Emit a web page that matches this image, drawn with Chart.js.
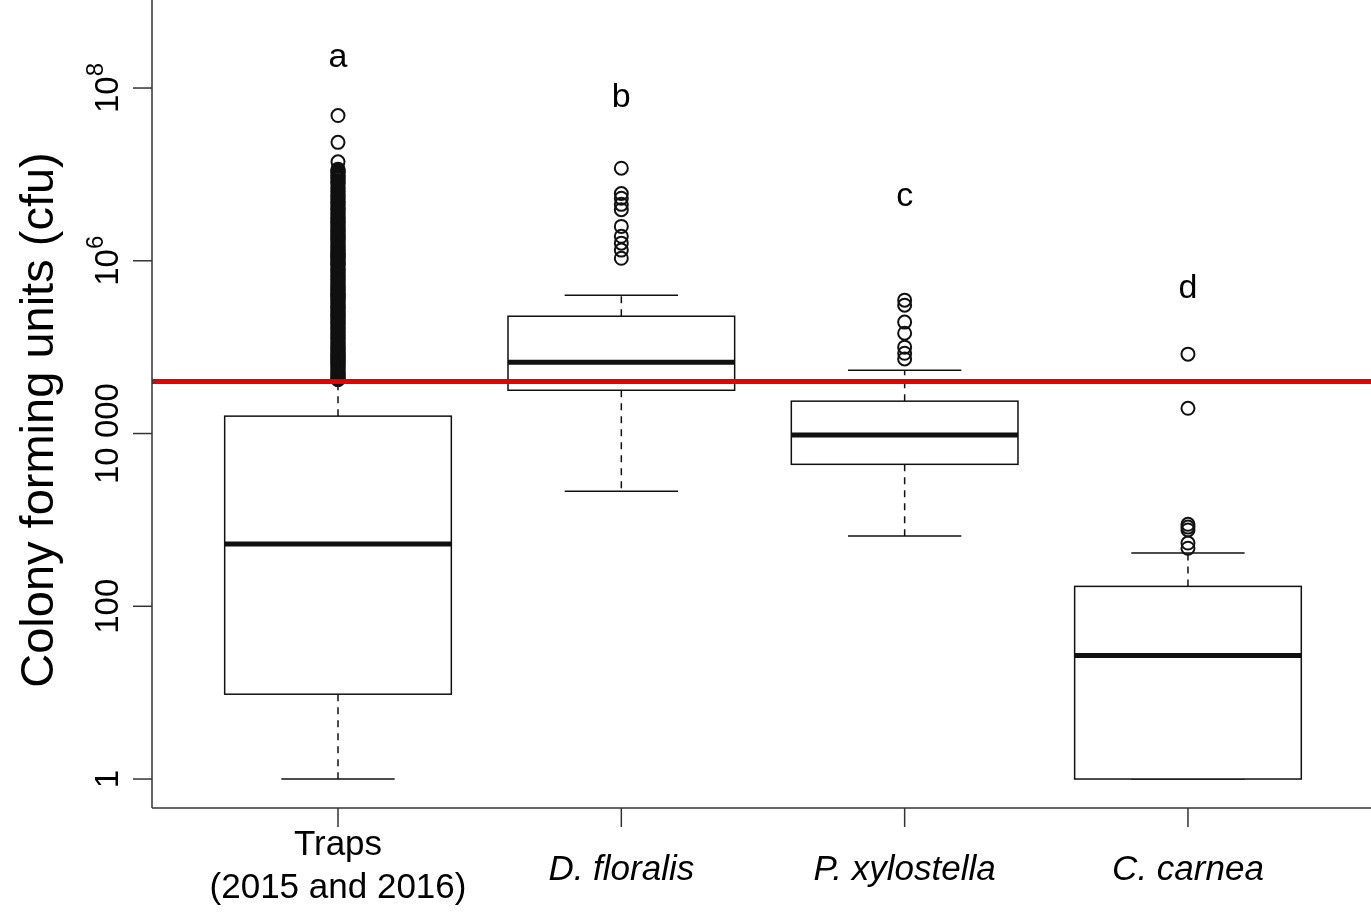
<!DOCTYPE html>
<html>
<head>
<meta charset="utf-8">
<title>Colony forming units</title>
<script src="https://cdn.jsdelivr.net/npm/chart.js@4/dist/chart.umd.min.js"></script>
<style>
  html, body { margin: 0; padding: 0; background: #fff; }
  #wrap { width: 1371px; height: 922px; }
</style>
</head>
<body>
<div id="wrap"><canvas id="chart"></canvas></div>
<script>
const groups = ["Traps", "D. floralis", "P. xylostella", "C. carnea"]
const groupLabels = [["Traps", "(2015 and 2016)"], ["D. floralis"], ["P. xylostella"], ["C. carnea"]]
const italicLabel = [false, true, true, true]

// box statistics (cfu)
const whiskerLow = [1, 2150, 650, 1]
const q1 = [9.6, 31700, 4400, 1]
const median = [525, 67000, 9600, 27]
const q3 = [15900, 228000, 23700, 170]
const whiskerHigh = [41000, 400000, 54000, 415]

// trap samples: very many outliers, they pile up into a solid column
const trapOutliers = [
  4.8e7, 2.35e7, 1.4e7,
  1.15e7, 1.11e7, 1.08e7, 1.05e7, 1.02e7, 9.8e6, 9.5e6, 9.2e6, 8.9e6, 8.5e6,
  8.2e6, 8.0e6, 7.8e6, 7.4e6, 7.1e6, 6.9e6, 6.6e6, 6.4e6, 6.2e6, 5.9e6,
  5.7e6, 5.5e6, 5.3e6, 5.1e6, 4.9e6, 4.75e6, 4.6e6, 4.45e6, 4.3e6, 4.15e6,
  4.0e6, 3.9e6, 3.8e6, 3.65e6, 3.55e6, 3.4e6, 3.3e6, 3.2e6, 3.1e6, 3.0e6,
  2.9e6, 2.82e6, 2.75e6, 2.68e6, 2.6e6, 2.52e6, 2.45e6, 2.38e6, 2.3e6, 2.25e6,
  2.2e6, 2.12e6, 2.05e6, 2.0e6, 1.95e6, 1.9e6, 1.85e6, 1.8e6, 1.75e6, 1.7e6,
  1.65e6, 1.6e6, 1.55e6, 1.51e6, 1.47e6, 1.43e6, 1.4e6, 1.36e6, 1.32e6, 1.28e6,
  1.25e6, 1.21e6, 1.18e6, 1.15e6, 1.12e6, 1.09e6, 1.06e6, 1.03e6, 1.0e6, 9.7e5,
  9.5e5, 9.2e5, 9.0e5, 8.8e5, 8.5e5, 8.2e5, 8.0e5, 7.8e5, 7.6e5, 7.4e5,
  7.2e5, 7.0e5, 6.8e5, 6.6e5, 6.4e5, 6.25e5, 6.1e5, 5.95e5, 5.8e5, 5.65e5,
  5.5e5, 5.35e5, 5.2e5, 5.05e5, 4.9e5, 4.8e5, 4.65e5, 4.5e5, 4.4e5, 4.25e5,
  4.15e5, 4.05e5, 3.95e5, 3.85e5, 3.75e5, 3.65e5, 3.55e5, 3.45e5, 3.35e5, 3.25e5,
  3.15e5, 3.08e5, 3.0e5, 2.92e5, 2.85e5, 2.78e5, 2.7e5, 2.62e5, 2.55e5, 2.48e5,
  2.42e5, 2.36e5, 2.3e5, 2.24e5, 2.18e5, 2.12e5, 2.06e5, 2.0e5, 1.95e5, 1.9e5,
  1.85e5, 1.8e5, 1.75e5, 1.7e5, 1.66e5, 1.62e5, 1.57e5, 1.53e5, 1.49e5, 1.45e5,
  1.41e5, 1.37e5, 1.34e5, 1.3e5, 1.27e5, 1.24e5, 1.2e5, 1.17e5, 1.14e5, 1.11e5,
  1.08e5, 1.05e5, 1.02e5, 9.9e4, 9.7e4, 9.4e4, 9.2e4, 8.9e4, 8.7e4, 8.4e4,
  8.2e4, 8.0e4, 7.8e4, 7.6e4, 7.4e4, 7.2e4, 7.0e4, 6.8e4, 6.6e4, 6.45e4,
  6.3e4, 6.15e4, 6.0e4, 5.85e4, 5.7e4, 5.55e4, 5.4e4, 5.25e4, 5.1e4, 4.95e4,
  4.85e4, 4.7e4, 4.6e4, 4.5e4, 4.4e4, 4.3e4, 4.2e4
]
const floralisOutliers = [1.18e7, 6.0e6, 5.3e6, 4.5e6, 3.9e6, 2.5e6, 1.92e6, 1.6e6, 1.33e6, 1.07e6]
const xylostellaOutliers = [3.5e5, 3.06e5, 1.95e5, 1.45e5, 1.0e5, 8.5e4, 7.3e4]
const carneaOutliers = [8.3e4, 1.96e4, 890, 825, 765, 540, 470]
const outliers = [trapOutliers, floralisOutliers, xylostellaOutliers, carneaOutliers]

const letters = ["a", "b", "c", "d"]
const letterY = [1.75e8, 6.0e7, 4.3e6, 3.7e5]
const threshold = 40000

const yTicks = [1, 100, 10000, 1e6, 1e8]
const yTickLabels = [["1"], ["100"], ["10 000"], ["10", "6"], ["10", "8"]]

const xMin = 0.3435
const xMax = 4.646
const yMin = 0.462
const yMax = 1.045e9

const ink = "#111"
const font = "'Liberation Sans', Arial, Helvetica, sans-serif"

function line(ctx, x1, y1, x2, y2) {
  ctx.beginPath()
  ctx.moveTo(x1, y1)
  ctx.lineTo(x2, y2)
  ctx.stroke()
}

const boxPlugin = {
  id: "boxes",
  beforeDatasetsDraw(chart) {
    const { ctx, scales: { x, y } } = chart
    ctx.save()
    ctx.strokeStyle = ink
    groups.forEach((g, i) => {
      const cx = x.getPixelForValue(i + 1)
      const left = x.getPixelForValue(i + 0.6)
      const right = x.getPixelForValue(i + 1.4)
      const capL = x.getPixelForValue(i + 0.8)
      const capR = x.getPixelForValue(i + 1.2)
      const yLo = y.getPixelForValue(whiskerLow[i])
      const yQ1 = y.getPixelForValue(q1[i])
      const yMed = y.getPixelForValue(median[i])
      const yQ3 = y.getPixelForValue(q3[i])
      const yHi = y.getPixelForValue(whiskerHigh[i])

      ctx.lineWidth = 1.5
      ctx.setLineDash([7, 6])
      line(ctx, cx, yQ3, cx, yHi)
      line(ctx, cx, yQ1, cx, yLo)
      ctx.setLineDash([])
      line(ctx, capL, yHi, capR, yHi)
      line(ctx, capL, yLo, capR, yLo)

      ctx.fillStyle = "#fff"
      ctx.fillRect(left, yQ3, right - left, yQ1 - yQ3)
      ctx.strokeRect(left, yQ3, right - left, yQ1 - yQ3)

      ctx.lineWidth = 5
      line(ctx, left, yMed, right, yMed)
    })
    ctx.restore()
  },
  afterDraw(chart) {
    const { ctx, chartArea: area, scales: { x, y } } = chart
    ctx.save()

    // axes (L-shaped frame)
    ctx.strokeStyle = "#333"
    ctx.lineWidth = 1.5
    line(ctx, area.left, area.top, area.left, area.bottom)
    line(ctx, area.left, area.bottom, area.right, area.bottom)

    // y ticks and rotated labels
    ctx.fillStyle = "#000"
    yTicks.forEach((v, i) => {
      const py = y.getPixelForValue(v)
      line(ctx, area.left - 19, py, area.left, py)
      const parts = yTickLabels[i]
      ctx.save()
      ctx.translate(area.left - 34, py)
      ctx.rotate(-Math.PI / 2)
      ctx.textBaseline = "alphabetic"
      ctx.font = "33px " + font
      if (parts.length === 1) {
        ctx.textAlign = "center"
        ctx.fillText(parts[0], 0, 0)
      } else {
        const w1 = ctx.measureText(parts[0]).width
        ctx.font = "24px " + font
        const w2 = ctx.measureText(parts[1]).width
        const start = -(w1 + w2) / 2
        ctx.textAlign = "left"
        ctx.fillText(parts[1], start + w1, -15)
        ctx.font = "33px " + font
        ctx.fillText(parts[0], start, 0)
      }
      ctx.restore()
    })

    // x ticks and category labels
    groups.forEach((g, i) => {
      const px = x.getPixelForValue(i + 1)
      line(ctx, px, area.bottom, px, area.bottom + 19)
      ctx.font = (italicLabel[i] ? "italic " : "") + "35px " + font
      ctx.textAlign = "center"
      ctx.textBaseline = "alphabetic"
      const lines = groupLabels[i]
      if (lines.length === 1) {
        ctx.fillText(lines[0], px, area.bottom + 72)
      } else {
        ctx.fillText(lines[0], px, area.bottom + 47)
        ctx.fillText(lines[1], px, area.bottom + 90)
      }
    })

    // y axis title
    ctx.save()
    ctx.translate(53, 420)
    ctx.rotate(-Math.PI / 2)
    ctx.font = "47px " + font
    ctx.textAlign = "center"
    ctx.textBaseline = "alphabetic"
    ctx.fillText("Colony forming units (cfu)", 0, 0)
    ctx.restore()

    // significance letters
    ctx.font = "34px " + font
    ctx.textAlign = "center"
    ctx.textBaseline = "alphabetic"
    letters.forEach((l, i) => {
      ctx.fillText(l, x.getPixelForValue(i + 1), y.getPixelForValue(letterY[i]))
    })

    ctx.restore()
  }
}

const outlierPoints = []
outliers.forEach((list, i) => {
  list.forEach(v => outlierPoints.push({ x: i + 1, y: v }))
})

new Chart(document.getElementById("chart"), {
  type: "scatter",
  data: {
    datasets: [
      {
        type: "line",
        label: "threshold",
        data: [{ x: xMin, y: threshold }, { x: xMax, y: threshold }],
        borderColor: "#e30000",
        borderWidth: 5,
        pointRadius: 0,
        clip: false
      },
      {
        label: "outliers",
        data: outlierPoints,
        pointStyle: "circle",
        pointRadius: 6.5,
        pointBorderWidth: 2,
        borderColor: ink,
        pointBorderColor: ink,
        backgroundColor: "rgba(0,0,0,0)",
        pointBackgroundColor: "rgba(0,0,0,0)"
      }
    ]
  },
  options: {
    responsive: true,
    maintainAspectRatio: false,
    devicePixelRatio: 1,
    animation: false,
    layout: { autoPadding: false, padding: { left: 152, right: 0, top: 0, bottom: 114 } },
    plugins: {
      legend: { display: false },
      tooltip: { enabled: false }
    },
    scales: {
      x: { type: "linear", display: false, min: xMin, max: xMax, bounds: "data" },
      y: { type: "logarithmic", display: false, min: yMin, max: yMax, bounds: "data" }
    }
  },
  plugins: [boxPlugin]
})
</script>
</body>
</html>
